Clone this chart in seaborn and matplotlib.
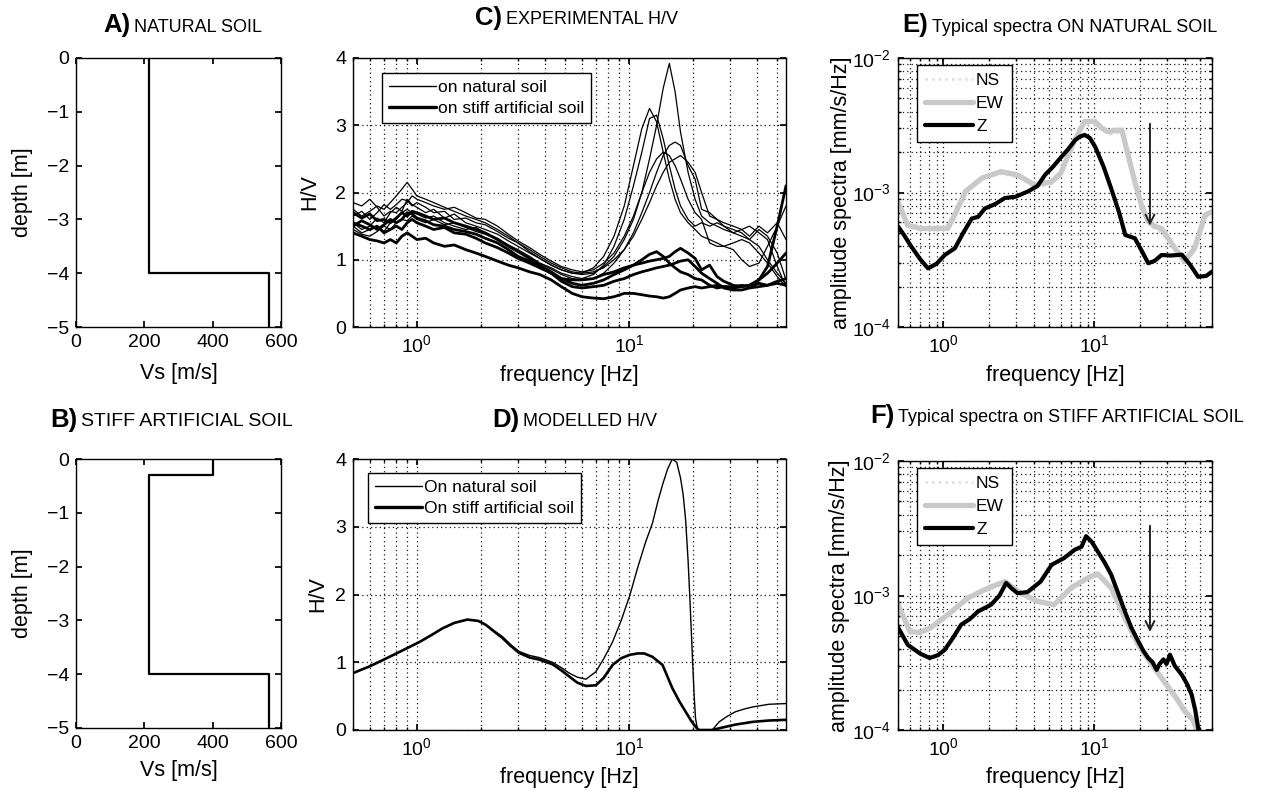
import numpy as np
import pandas as pd
import matplotlib
matplotlib.use("Agg")
import matplotlib.pyplot as plt
import seaborn as sns
from matplotlib.lines import Line2D
from matplotlib.ticker import LogLocator, NullFormatter, FixedLocator

# ---------------- DATA ----------------
# A) / B) shear-wave velocity profiles
vs_natural = [215, 215, 565, 565]
depth_natural = [0, -4, -4, -5]
vs_stiff = [400, 400, 215, 215, 565, 565]
depth_stiff = [0, -0.3, -0.3, -4, -4, -5]

# C) experimental H/V
freq_exp = [0.5, 0.55, 0.6, 0.65, 0.7, 0.75, 0.8, 0.85, 0.9, 0.95,
            1.0, 1.1, 1.2, 1.35, 1.5, 1.7, 1.9, 2.1, 2.4, 2.7,
            3.0, 3.4, 3.8, 4.3, 4.8, 5.4, 6.0, 6.8, 7.6, 8.5,
            9.5, 10.5, 11.5, 12.5, 13.5, 14.5, 15.5, 16.5, 17.5, 19,
            20.5, 22, 24, 26, 28, 31, 34, 37, 41, 45,
            50, 55]
hv_nat_1 = [1.55, 1.45, 1.50, 1.62, 1.55, 1.70, 1.78, 1.72, 1.90, 1.82,
            1.78, 1.70, 1.75, 1.62, 1.68, 1.55, 1.50, 1.45, 1.38, 1.28,
            1.20, 1.10, 1.02, 0.92, 0.85, 0.80, 0.78, 0.80, 0.90, 1.05,
            1.30, 1.60, 2.00, 2.50, 3.00, 3.55, 3.92, 3.50, 2.90, 2.30,
            1.90, 1.65, 1.55, 1.50, 1.45, 1.40, 1.35, 1.30, 1.45, 1.35,
            1.10, 0.70]
hv_nat_2 = [1.75, 1.65, 1.72, 1.80, 1.75, 1.85, 1.95, 2.05, 2.15, 2.05,
            1.95, 1.90, 1.85, 1.78, 1.72, 1.65, 1.60, 1.55, 1.45, 1.35,
            1.25, 1.12, 1.02, 0.92, 0.85, 0.80, 0.80, 0.88, 1.05, 1.35,
            1.80, 2.40, 2.95, 3.25, 3.05, 2.60, 2.20, 1.90, 1.70, 1.55,
            1.45, 1.35, 1.30, 1.25, 1.20, 1.15, 1.00, 0.90, 0.95, 1.20,
            1.50, 1.80]
hv_nat_3 = [1.50, 1.40, 1.45, 1.50, 1.42, 1.55, 1.60, 1.70, 1.75, 1.70,
            1.68, 1.62, 1.65, 1.55, 1.50, 1.45, 1.48, 1.40, 1.32, 1.22,
            1.15, 1.05, 0.95, 0.88, 0.80, 0.75, 0.72, 0.78, 0.92, 1.20,
            1.60, 2.10, 2.60, 3.10, 3.15, 2.80, 2.40, 2.05, 1.80, 1.60,
            1.50, 1.55, 1.50, 1.55, 1.50, 1.40, 1.45, 1.50, 1.40, 1.30,
            0.90, 0.60]
hv_nat_4 = [1.45, 1.38, 1.35, 1.42, 1.50, 1.45, 1.55, 1.60, 1.58, 1.65,
            1.60, 1.55, 1.60, 1.52, 1.55, 1.48, 1.42, 1.38, 1.30, 1.22,
            1.12, 1.02, 0.95, 0.86, 0.78, 0.72, 0.70, 0.72, 0.80, 0.95,
            1.15, 1.40, 1.70, 2.00, 2.30, 2.55, 2.70, 2.75, 2.70, 2.40,
            2.20, 1.75, 1.70, 1.60, 1.55, 1.50, 1.45, 1.35, 1.50, 1.40,
            1.55, 1.30]
hv_nat_5 = [1.65, 1.72, 1.60, 1.70, 1.82, 1.75, 1.82, 1.90, 1.88, 1.80,
            1.85, 1.78, 1.70, 1.72, 1.60, 1.62, 1.55, 1.52, 1.42, 1.32,
            1.25, 1.15, 1.05, 0.95, 0.88, 0.82, 0.80, 0.82, 0.88, 1.00,
            1.15, 1.35, 1.60, 1.85, 2.10, 2.30, 2.45, 2.50, 2.55, 2.45,
            2.30, 2.00, 1.65, 1.60, 1.50, 1.45, 1.40, 1.30, 1.20, 1.00,
            0.80, 0.65]
hv_nat_6 = [1.85, 1.80, 1.90, 1.78, 1.65, 1.72, 1.70, 1.78, 1.85, 1.95,
            1.90, 1.85, 1.80, 1.75, 1.78, 1.70, 1.62, 1.60, 1.50, 1.38,
            1.28, 1.18, 1.08, 0.98, 0.90, 0.85, 0.82, 0.85, 0.95, 1.10,
            1.35, 1.65, 2.00, 2.30, 2.50, 2.60, 2.55, 2.40, 2.20, 1.90,
            1.70, 1.60, 1.25, 1.20, 1.20, 1.25, 1.30, 1.25, 1.10, 0.95,
            0.75, 0.60]
hv_stiff_1 = [1.40, 1.35, 1.30, 1.28, 1.25, 1.30, 1.25, 1.35, 1.40, 1.35,
              1.30, 1.32, 1.25, 1.20, 1.22, 1.15, 1.10, 1.05, 0.98, 0.92,
              0.88, 0.82, 0.78, 0.70, 0.60, 0.50, 0.45, 0.43, 0.42, 0.45,
              0.50, 0.50, 0.48, 0.46, 0.45, 0.43, 0.45, 0.50, 0.55, 0.58,
              0.60, 0.58, 0.60, 0.62, 0.60, 0.60, 0.62, 0.60, 0.65, 0.62,
              0.65, 0.62]
hv_stiff_2 = [1.55, 1.50, 1.45, 1.50, 1.40, 1.45, 1.50, 1.45, 1.55, 1.60,
              1.55, 1.50, 1.45, 1.48, 1.40, 1.38, 1.32, 1.25, 1.18, 1.10,
              1.02, 0.95, 0.88, 0.80, 0.72, 0.70, 0.70, 0.72, 0.78, 0.82,
              0.88, 0.92, 0.95, 0.98, 1.00, 1.02, 1.05, 1.12, 1.17, 1.10,
              1.02, 0.85, 0.92, 0.75, 0.68, 0.62, 0.60, 0.62, 0.70, 0.90,
              1.50, 2.10]
hv_stiff_3 = [1.70, 1.62, 1.68, 1.58, 1.60, 1.55, 1.62, 1.70, 1.65, 1.72,
              1.70, 1.65, 1.60, 1.62, 1.55, 1.50, 1.45, 1.40, 1.30, 1.20,
              1.12, 1.02, 0.92, 0.82, 0.72, 0.65, 0.62, 0.65, 0.70, 0.78,
              0.85, 0.92, 1.00, 1.08, 1.12, 1.05, 0.95, 0.88, 0.82, 0.78,
              0.72, 0.70, 0.62, 0.58, 0.60, 0.58, 0.60, 0.62, 0.70, 0.80,
              0.95, 1.10]
hv_stiff_4 = [1.50, 1.58, 1.52, 1.45, 1.52, 1.60, 1.55, 1.60, 1.70, 1.68,
              1.62, 1.58, 1.52, 1.50, 1.45, 1.42, 1.38, 1.32, 1.25, 1.15,
              1.05, 0.98, 0.90, 0.80, 0.68, 0.60, 0.58, 0.60, 0.62, 0.68,
              0.72, 0.78, 0.82, 0.85, 0.88, 0.90, 0.92, 0.95, 0.98, 1.00,
              0.90, 0.80, 0.72, 0.65, 0.58, 0.55, 0.55, 0.58, 0.60, 0.62,
              0.68, 0.72]

# D) modelled H/V
freq_mod_nat = [0.50, 0.60, 0.71, 0.85, 1.03, 1.17, 1.32, 1.50, 1.73, 1.95,
                2.12, 2.30, 2.53, 2.75, 3.03, 3.40, 3.77, 4.36, 4.80, 5.23,
                5.70, 6.27, 6.98, 7.60, 8.37, 9.20, 10.1, 11.0, 12.0, 12.9,
                13.7, 14.4, 15.2, 16.0, 16.8, 17.5, 18.0, 18.5, 19.0, 19.4,
                19.9, 20.3, 20.6, 21.0, 21.5, 24.7, 26.6, 29.0, 31.8, 35.0,
                38.3, 45.7, 55.0]
hv_mod_nat = [0.84, 0.94, 1.05, 1.17, 1.30, 1.40, 1.50, 1.58, 1.63, 1.61,
              1.55, 1.47, 1.38, 1.27, 1.16, 1.10, 1.07, 1.00, 0.92, 0.84,
              0.78, 0.75, 0.86, 1.05, 1.30, 1.62, 1.99, 2.40, 2.78, 3.05,
              3.38, 3.62, 3.85, 4.00, 3.95, 3.72, 3.48, 3.10, 2.50, 1.90,
              1.10, 0.50, 0.17, 0.03, 0.00, 0.00, 0.12, 0.20, 0.27, 0.31,
              0.34, 0.38, 0.39]
freq_mod_stiff = [0.50, 0.60, 0.71, 0.85, 1.03, 1.17, 1.32, 1.50, 1.73, 1.95,
                  2.12, 2.30, 2.53, 2.75, 3.03, 3.40, 3.77, 4.36, 4.80, 5.23,
                  5.70, 6.27, 6.98, 7.60, 8.37, 9.20, 10.1, 11.0, 11.8, 12.9,
                  14.4, 16.0, 17.3, 18.5, 19.6, 20.6, 21.3, 24.7, 26.6, 31.8,
                  38.3, 45.7, 55.0]
hv_mod_stiff = [0.84, 0.94, 1.05, 1.17, 1.30, 1.40, 1.50, 1.58, 1.63, 1.61,
                1.55, 1.46, 1.36, 1.25, 1.14, 1.07, 1.04, 0.97, 0.88, 0.79,
                0.70, 0.65, 0.66, 0.77, 0.96, 1.06, 1.11, 1.13, 1.13, 1.08,
                0.96, 0.62, 0.42, 0.27, 0.14, 0.05, 0.00, 0.00, 0.025, 0.08,
                0.12, 0.14, 0.15]

# E) spectra on natural soil
freq_E_z = [0.5, 0.55, 0.6, 0.7, 0.79, 0.9, 1.02, 1.19, 1.35, 1.54,
            1.7, 1.88, 2.2, 2.55, 3.0, 3.64, 4.2, 4.7, 5.3, 6.06,
            6.7, 7.44, 8.0, 8.6, 9.3, 10.1, 11.5, 12.9, 14.5, 16.0,
            17.2, 18.5, 20.5, 22.7, 25, 27.8, 32, 37.9, 43, 48.6,
            55, 60]
spec_E_z = [5.6e-4, 4.8e-4, 4.1e-4, 3.2e-4, 2.73e-4, 2.95e-4, 3.43e-4, 3.85e-4, 5.0e-4, 6.4e-4,
            6.6e-4, 7.6e-4, 8.2e-4, 9.1e-4, 9.3e-4, 1.02e-3, 1.12e-3, 1.35e-3, 1.55e-3, 1.85e-3,
            2.1e-3, 2.45e-3, 2.6e-3, 2.68e-3, 2.55e-3, 2.19e-3, 1.55e-3, 1.07e-3, 7.2e-4, 4.83e-4,
            4.7e-4, 4.57e-4, 3.7e-4, 2.98e-4, 3.1e-4, 3.43e-4, 3.4e-4, 3.45e-4, 2.9e-4, 2.36e-4,
            2.4e-4, 2.58e-4]
freq_E_h = [0.5, 0.58, 0.7, 0.85, 1.07, 1.2, 1.4, 1.8, 2.4, 3.1,
            4.0, 5.2, 6.0, 6.7, 7.6, 8.6, 10.1, 11.2, 12.4, 13.8,
            15.2, 16.5, 18.5, 20.5, 22.7, 25, 27.8, 34.1, 39.5, 46,
            54, 60]
spec_E_ew = [8.5e-4, 5.7e-4, 5.4e-4, 5.4e-4, 5.4e-4, 7.0e-4, 1.02e-3, 1.28e-3, 1.43e-3, 1.35e-3,
             1.14e-3, 1.2e-3, 1.4e-3, 1.9e-3, 2.6e-3, 3.37e-3, 3.37e-3, 3.0e-3, 2.83e-3, 2.9e-3,
             2.9e-3, 2.0e-3, 1.2e-3, 8.0e-4, 6.07e-4, 5.6e-4, 5.4e-4, 3.85e-4, 3.06e-4, 3.85e-4,
             6.8e-4, 7.2e-4]
spec_E_ns = [8.0e-4, 6.0e-4, 5.6e-4, 5.2e-4, 5.8e-4, 7.5e-4, 1.05e-3, 1.25e-3, 1.38e-3, 1.3e-3,
             1.1e-3, 1.15e-3, 1.45e-3, 2.0e-3, 2.7e-3, 3.2e-3, 3.2e-3, 2.9e-3, 2.7e-3, 2.75e-3,
             2.8e-3, 1.9e-3, 1.15e-3, 7.8e-4, 6.2e-4, 5.4e-4, 5.0e-4, 3.7e-4, 3.2e-4, 4.0e-4,
             6.5e-4, 7.0e-4]
arrow_E = (23.3, 3.4e-3, 5.4e-4)

# F) spectra on stiff artificial soil
freq_F_z = [0.5, 0.58, 0.7, 0.81, 0.92, 1.02, 1.15, 1.31, 1.5, 1.69,
            2.07, 2.35, 2.6, 2.85, 3.1, 3.6, 4.4, 5.2, 6.3, 7.4,
            8.2, 8.8, 9.6, 10.5, 11.7, 12.9, 14.3, 15.9, 17.5, 19.5,
            21, 22.7, 24.2, 25.8, 27, 28.6, 30, 31.6, 34, 37.8,
            41, 44, 46.5, 48.5, 50]
spec_F_z = [5.8e-4, 4.3e-4, 3.7e-4, 3.43e-4, 3.6e-4, 3.95e-4, 4.8e-4, 6.07e-4, 6.7e-4, 7.6e-4,
            8.55e-4, 1.0e-3, 1.24e-3, 1.12e-3, 1.04e-3, 1.06e-3, 1.27e-3, 1.69e-3, 1.9e-3, 2.19e-3,
            2.3e-3, 2.76e-3, 2.5e-3, 2.13e-3, 1.75e-3, 1.43e-3, 1.05e-3, 7.6e-4, 5.8e-4, 4.56e-4,
            3.9e-4, 3.43e-4, 3.2e-4, 2.8e-4, 3.1e-4, 3.35e-4, 3.1e-4, 3.63e-4, 3.0e-4, 2.58e-4,
            2.2e-4, 1.83e-4, 1.4e-4, 1.05e-4, 8e-5]
freq_F_h = [0.5, 0.6, 0.7, 0.81, 1.07, 1.45, 1.99, 2.55, 3.26, 4.2,
            5.4, 7.0, 9.0, 10.5, 12.9, 15.9, 19.5, 24, 27.8, 34.8,
            39.6, 44.6, 48.5, 50]
spec_F_ew = [8.55e-4, 5.4e-4, 5.3e-4, 5.7e-4, 7.2e-4, 9.6e-4, 1.14e-3, 1.27e-3, 1.04e-3, 9.06e-4,
             8.55e-4, 1.14e-3, 1.35e-3, 1.45e-3, 1.14e-3, 6.8e-4, 4.3e-4, 3.06e-4, 2.44e-4, 1.73e-4,
             1.38e-4, 1.2e-4, 9.5e-5, 8e-5]
spec_F_ns = [8.2e-4, 5.6e-4, 5.5e-4, 5.9e-4, 7.0e-4, 9.3e-4, 1.1e-3, 1.22e-3, 1.0e-3, 8.8e-4,
             8.3e-4, 1.1e-3, 1.3e-3, 1.4e-3, 1.1e-3, 6.6e-4, 4.2e-4, 3.0e-4, 2.4e-4, 1.7e-4,
             1.35e-4, 1.15e-4, 9.3e-5, 8e-5]
arrow_F = (23.3, 3.46e-3, 5.1e-4)

titles = [("A)", "NATURAL SOIL"), ("B)", "STIFF ARTIFICIAL SOIL"),
          ("C)", "EXPERIMENTAL H/V"), ("D)", "MODELLED H/V"),
          ("E)", "Typical spectra ON NATURAL SOIL"),
          ("F)", "Typical spectra on STIFF ARTIFICIAL SOIL")]

# ---------------- STYLE ----------------
sns.set_theme(style="ticks")
plt.rcParams['font.family'] = ['Liberation Sans', 'DejaVu Sans']
plt.rcParams.update({
    'mathtext.default': 'regular',
    'xtick.direction': 'in', 'ytick.direction': 'in',
    'xtick.top': True, 'ytick.right': True,
    'axes.edgecolor': 'black', 'axes.linewidth': 1.0,
    'xtick.color': 'black', 'ytick.color': 'black',
    'text.color': 'black', 'axes.labelcolor': 'black',
    'xtick.major.size': 4, 'ytick.major.size': 4,
    'xtick.minor.size': 2, 'ytick.minor.size': 2,
    'xtick.labelsize': 14, 'ytick.labelsize': 14, 'axes.labelsize': 15.5,
    'xtick.major.pad': 5, 'ytick.major.pad': 5,
})

W, H = 1267, 791
fig = plt.figure(figsize=(W / 100, H / 100), dpi=100)


def ax_px(left, top, right, bottom):
    return fig.add_axes([left / W, 1 - bottom / H, (right - left) / W, (bottom - top) / H])


axA = ax_px(76, 58, 281, 327)
axB = ax_px(76, 459, 281, 728)
axC = ax_px(353, 58, 786, 327)
axD = ax_px(353, 459, 786, 730)
axE = ax_px(898, 58, 1212, 327)
axF = ax_px(898, 461, 1212, 730)

grid_kw = dict(color='black', linestyle=(0, (1, 2.5)), linewidth=0.9, alpha=0.9)


def log_x(ax, lo, hi):
    ax.set_xscale('log')
    ax.set_xlim(lo, hi)
    ax.xaxis.set_major_locator(LogLocator(base=10))
    ax.xaxis.set_minor_locator(LogLocator(base=10, subs=np.arange(2, 10)))
    ax.xaxis.set_minor_formatter(NullFormatter())


# ---- A / B profiles
for ax, vs, dp in [(axA, vs_natural, depth_natural), (axB, vs_stiff, depth_stiff)]:
    sns.lineplot(x=vs, y=dp, sort=False, estimator=None, ax=ax, color='black', lw=1.6)
    ax.set_xlim(0, 600)
    ax.set_ylim(-5, 0)
    ax.set_xticks([0, 200, 400, 600])
    ax.set_yticks([0, -1, -2, -3, -4, -5])
    ax.set_xlabel("Vs [m/s]")
    ax.set_ylabel("depth [m]")

# ---- C experimental H/V
for curve in [hv_nat_1, hv_nat_2, hv_nat_3, hv_nat_4, hv_nat_5, hv_nat_6]:
    sns.lineplot(x=freq_exp, y=curve, ax=axC, color='black', lw=0.9, estimator=None)
for curve in [hv_stiff_1, hv_stiff_2, hv_stiff_3, hv_stiff_4]:
    sns.lineplot(x=freq_exp, y=curve, ax=axC, color='black', lw=2.0, estimator=None)

# ---- D modelled H/V
sns.lineplot(x=freq_mod_nat, y=hv_mod_nat, ax=axD, color='black', lw=1.0, estimator=None)
sns.lineplot(x=freq_mod_stiff, y=hv_mod_stiff, ax=axD, color='black', lw=1.9, estimator=None)

for ax in (axC, axD):
    log_x(ax, 0.5, 55)
    ax.set_ylim(0, 4)
    ax.set_yticks([0, 1, 2, 3, 4])
    ax.grid(True, which='major', axis='both', **grid_kw)
    ax.grid(True, which='minor', axis='x', **grid_kw)
    ax.set_xlabel("frequency [Hz]")
    ax.set_ylabel("H/V")

# ---- E / F spectra
ns_c, ew_c = '#dedede', '#c9c9c9'
for ax, fz, z, fh, ew, ns, arr in [
        (axE, freq_E_z, spec_E_z, freq_E_h, spec_E_ew, spec_E_ns, arrow_E),
        (axF, freq_F_z, spec_F_z, freq_F_h, spec_F_ew, spec_F_ns, arrow_F)]:
    sns.lineplot(x=fh, y=ns, ax=ax, color=ns_c, lw=1.8, ls=':', estimator=None)
    sns.lineplot(x=fh, y=ew, ax=ax, color=ew_c, lw=3.8, estimator=None)
    sns.lineplot(x=fz, y=z, ax=ax, color='black', lw=3.0, estimator=None)
    ax.set_yscale('log')
    ax.set_ylim(1e-4, 1e-2)
    ax.yaxis.set_major_locator(FixedLocator([1e-4, 1e-3, 1e-2]))
    ax.yaxis.set_minor_locator(LogLocator(base=10, subs=np.arange(2, 10)))
    ax.yaxis.set_minor_formatter(NullFormatter())
    log_x(ax, 0.5, 60)
    ax.grid(True, which='both', axis='both', **grid_kw)
    ax.annotate('', xy=(arr[0], arr[2]), xytext=(arr[0], arr[1]),
                arrowprops=dict(arrowstyle='->', color='#222222', lw=1.4, mutation_scale=16))
    ax.set_xlabel("frequency [Hz]")
    ax.set_ylabel("amplitude spectra [mm/s/Hz]")
    leg = ax.legend(handles=[Line2D([], [], color=ns_c, lw=1.8, ls=':'),
                             Line2D([], [], color=ew_c, lw=3.8),
                             Line2D([], [], color='black', lw=3.0)],
                    labels=['NS', 'EW', 'Z'], loc='upper left',
                    bbox_to_anchor=(0.0605, 0.974), borderaxespad=0, fancybox=False,
                    edgecolor='black', framealpha=1, fontsize=12.5, handlelength=2.8,
                    handletextpad=0.15, borderpad=0.45, labelspacing=0.45)
    leg.get_frame().set_linewidth(1.0)

for ax, lab, anchor in [(axC, ['on natural soil', 'on stiff artificial soil'], (0.067, 0.944)),
                        (axD, ['On natural soil', 'On stiff artificial soil'], (0.035, 0.948))]:
    leg = ax.legend(handles=[Line2D([], [], color='black', lw=1.0),
                             Line2D([], [], color='black', lw=2.4)],
                    labels=lab, loc='upper left', bbox_to_anchor=anchor, borderaxespad=0,
                    fancybox=False, edgecolor='black', framealpha=1, fontsize=12.5,
                    handlelength=2.7, handletextpad=0.1, borderpad=0.4, labelspacing=0.35)
    leg.get_frame().set_linewidth(1.0)

for ax in (axA, axB, axC, axD, axE, axF):
    ax.set_axisbelow(True)
    for s in ax.spines.values():
        s.set_visible(True)
        s.set_color('black')


# ---- label positions (axes coords)
def place_labels(ax, ylab_right_px, left_px, width_px, xlab_top_px, bottom_px, height_px):
    ax.yaxis.set_label_coords((ylab_right_px - left_px) / width_px, 0.5)
    ax.xaxis.set_label_coords(0.5, (bottom_px - xlab_top_px) / height_px)


place_labels(axA, 33, 76, 205, 363, 327, 269)
place_labels(axB, 33, 76, 205, 760, 728, 269)
place_labels(axC, 320, 353, 433, 365, 327, 269)
place_labels(axD, 328, 353, 433, 767, 730, 271)
place_labels(axE, 852, 898, 314, 365, 327, 269)
place_labels(axF, 850, 898, 314, 767, 730, 269)

# ---- panel titles
title_pos = [(103, 32, 13), (50, 427, 14), (475, 25, 13), (492, 427, 13), (902, 32, 13), (870, 423, 13)]
for (letter, text), (xp, bp, fs) in zip(titles, title_pos):
    t1 = fig.text(xp / W, 1 - bp / H, letter, fontsize=18.5, fontweight='bold',
                  ha='left', va='baseline')
    fig.add_artist(plt.Annotation(text, xy=(1, 0), xycoords=t1, xytext=(4, 1.5),
                                  textcoords='offset pixels', fontsize=fs, ha='left',
                                  va='bottom', annotation_clip=False))

fig.savefig("out.png", dpi=100)
